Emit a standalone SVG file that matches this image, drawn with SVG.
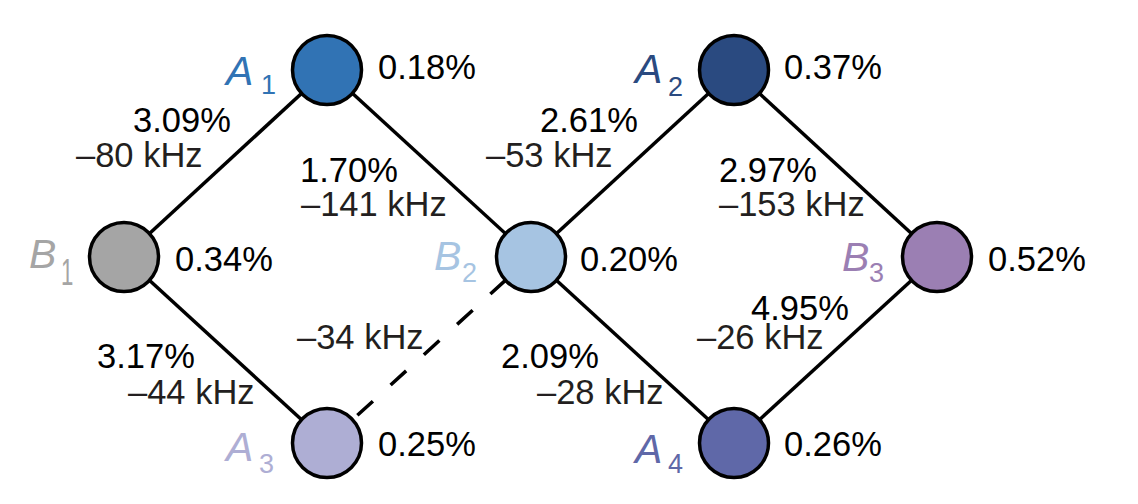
<svg xmlns="http://www.w3.org/2000/svg" width="1138" height="504" viewBox="0 0 1138 504">
<style>
.edge{stroke:#000;stroke-width:3.5;fill:none}
.node{stroke:#000;stroke-width:3.5}
.t{font-family:"Liberation Sans",Arial,Helvetica,sans-serif;font-size:34.5px;fill:#000}
.k{font-family:"Liberation Sans",Arial,Helvetica,sans-serif;font-size:34.5px;fill:#231f20}
.n{font-family:"Liberation Sans",Arial,Helvetica,sans-serif;font-style:italic;font-size:41px}
.s{font-family:"Liberation Sans",Arial,Helvetica,sans-serif;font-size:27px}
</style>
<rect width="1138" height="504" fill="#fff"/>
<g id="connectors">
<line class="edge" x1="327" y1="70" x2="124" y2="257"/>
<line class="edge" x1="327" y1="70" x2="531" y2="257"/>
<line class="edge" x1="124" y1="257" x2="327" y2="443"/>
<line class="edge" x1="531" y1="257" x2="734" y2="70"/>
<line class="edge" x1="531" y1="257" x2="734" y2="443"/>
<line class="edge" x1="734" y1="70" x2="937" y2="257"/>
<line class="edge" x1="937" y1="257" x2="734" y2="443"/>
<line class="edge" x1="505.9" y1="279.9" x2="327" y2="443" stroke-dasharray="21 24"/>
<text class="t" x="133" y="132">3.09%</text>
<text class="k" x="76" y="167">–80 kHz</text>
<text class="t" x="300" y="182">1.70%</text>
<text class="k" x="301" y="216">–141 kHz</text>
<text class="t" x="540" y="132">2.61%</text>
<text class="k" x="486" y="167">–53 kHz</text>
<text class="t" x="719" y="182">2.97%</text>
<text class="k" x="719" y="216">–153 kHz</text>
<text class="t" x="97" y="368">3.17%</text>
<text class="k" x="128" y="404">–44 kHz</text>
<text class="k" x="297" y="349">–34 kHz</text>
<text class="t" x="501" y="368">2.09%</text>
<text class="k" x="537" y="404">–28 kHz</text>
<text class="t" x="751" y="320">4.95%</text>
<text class="k" x="697" y="349">–26 kHz</text>
</g>
<g id="A1">
<circle class="node" cx="327" cy="70" r="34.5" fill="#3173b4"/>
<text class="n" x="226" y="85" fill="#3173b4">A</text>
<text class="s" x="261" y="94" fill="#3173b4">1</text>
<text class="t" x="378" y="79">0.18%</text>
</g>
<g id="A2">
<circle class="node" cx="734" cy="70" r="34.5" fill="#2a4a80"/>
<text class="n" x="635" y="83" fill="#2a4a80">A</text>
<text class="s" x="668" y="96" fill="#2a4a80">2</text>
<text class="t" x="784" y="79">0.37%</text>
</g>
<g id="B1">
<circle class="node" cx="124" cy="257" r="34.5" fill="#a5a5a5"/>
<text class="n" x="29" y="268" fill="#a5a5a5">B</text>
<text class="s" transform="translate(61,285) scale(0.6,1)" style="font-size:37px" fill="#a5a5a5">1</text>
<text class="t" x="175" y="271">0.34%</text>
</g>
<g id="B2">
<circle class="node" cx="531" cy="257" r="34.5" fill="#a6c4e2"/>
<text class="n" x="434" y="270" fill="#a6c4e2">B</text>
<text class="s" x="462" y="282" fill="#a6c4e2">2</text>
<text class="t" x="580" y="271">0.20%</text>
</g>
<g id="B3">
<circle class="node" cx="937" cy="257" r="34.5" fill="#9b7fb3"/>
<text class="n" x="842" y="271" fill="#9b7fb3">B</text>
<text class="s" x="869" y="282" fill="#9b7fb3">3</text>
<text class="t" x="988" y="271">0.52%</text>
</g>
<g id="A3">
<circle class="node" cx="327" cy="443" r="34.5" fill="#aeaed4"/>
<text class="n" x="226" y="461" fill="#aeaed4">A</text>
<text class="s" x="259" y="473" fill="#aeaed4">3</text>
<text class="t" x="378" y="456">0.25%</text>
</g>
<g id="A4">
<circle class="node" cx="734" cy="443" r="34.5" fill="#5f68a8"/>
<text class="n" x="635" y="463" fill="#5f68a8">A</text>
<text class="s" x="668" y="473" fill="#5f68a8">4</text>
<text class="t" x="784" y="456">0.26%</text>
</g>
</svg>
